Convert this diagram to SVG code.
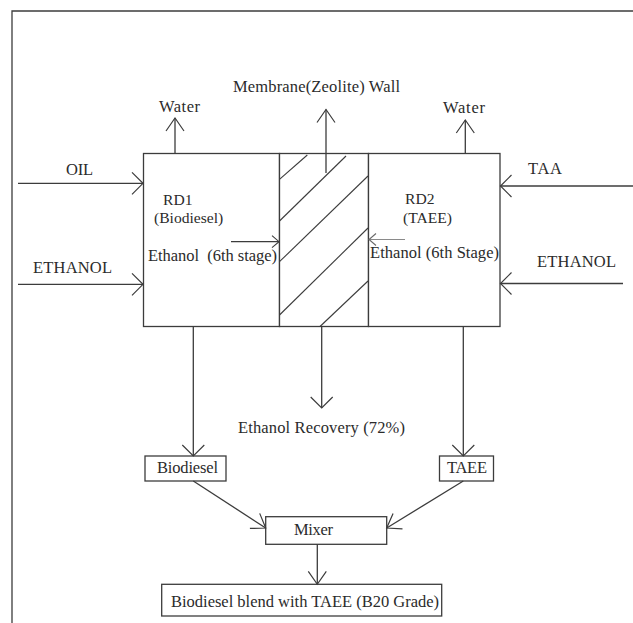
<svg xmlns="http://www.w3.org/2000/svg" width="633" height="623" viewBox="0 0 633 623" font-family="'Liberation Serif', 'Times New Roman', 'DejaVu Serif', serif">
<style>
.ln{stroke:#3c3c3c;stroke-width:1.3;fill:none}
.lt{stroke:#8a8a8a;stroke-width:1.2;fill:none}
.box{fill:#ffffff;stroke:#3c3c3c;stroke-width:1.3}
.hatch{stroke:#3c3c3c;stroke-width:1.1;fill:none}
text{font-family:'Liberation Serif','Times New Roman','DejaVu Serif',serif;font-size:16.5px;fill:#2b2b2b}
.sm{font-size:15.6px}
.pre{white-space:pre}
</style>
<defs>
<marker id="aw" viewBox="-13 -13 16 26" markerWidth="16" markerHeight="26" refX="0" refY="0" orient="auto" markerUnits="userSpaceOnUse">
<path d="M-11,-11 L0,0 L-11,11" fill="none" stroke="#3c3c3c" stroke-width="1.2"/>
</marker>
<marker id="am" viewBox="-16 -11 19 22" markerWidth="19" markerHeight="22" refX="0" refY="0" orient="auto" markerUnits="userSpaceOnUse">
<path d="M-13,-9 L0,0 L-13,9" fill="none" stroke="#3c3c3c" stroke-width="1.2"/>
</marker>
<marker id="as" viewBox="-9 -7 11 14" markerWidth="11" markerHeight="14" refX="0" refY="0" orient="auto" markerUnits="userSpaceOnUse">
<path d="M-7,-6 L0,0 L-7,6" fill="none" stroke="#3c3c3c" stroke-width="1.1"/>
</marker>
<marker id="asl" viewBox="-9 -7 11 14" markerWidth="11" markerHeight="14" refX="0" refY="0" orient="auto" markerUnits="userSpaceOnUse">
<path d="M-7,-6 L0,0 L-7,6" fill="none" stroke="#6a6a6a" stroke-width="1.1"/>
</marker>
</defs>
<rect x="0" y="0" width="633" height="623" fill="#ffffff"/>
<g id="frame">
<path class="ln" d="M12,623 L12,11 L633,11" stroke="#555"/>
</g>

<g id="rd1">
<rect class="box" x="143.5" y="153.5" width="136" height="173"/>
<text class="sm" x="163" y="205">RD1</text>
<text class="sm" x="154" y="223">(Biodiesel)</text>
<text class="pre" x="148" y="261" textLength="129">Ethanol  (6th stage)</text>
</g>

<g id="membrane">
<rect class="box" x="279.5" y="153.5" width="89" height="173"/>
<line class="hatch" x1="279.5" y1="179.3" x2="307.3" y2="155"/>
<line class="hatch" x1="279.5" y1="221" x2="346" y2="156"/>
<line class="hatch" x1="279.5" y1="261.7" x2="368" y2="176"/>
<line class="hatch" x1="279.5" y1="315" x2="368" y2="228"/>
<line class="hatch" x1="320" y1="326.5" x2="368" y2="281"/>
<text x="233" y="92" textLength="167">Membrane(Zeolite) Wall</text>
</g>

<g id="rd2">
<rect class="box" x="368.5" y="153.5" width="131.5" height="173"/>
<text class="sm" x="405" y="204">RD2</text>
<text class="sm" x="403" y="223">(TAEE)</text>
<text x="370" y="258" textLength="129">Ethanol (6th Stage)</text>
</g>

<g id="biodiesel">
<rect class="box" x="145" y="456" width="81" height="25"/>
<text x="157" y="473" textLength="61">Biodiesel</text>
</g>

<g id="taee">
<rect class="box" x="439.5" y="456" width="54" height="25"/>
<text x="447" y="473" textLength="40">TAEE</text>
</g>

<g id="mixer">
<rect class="box" x="265.7" y="516.7" width="121" height="27.6"/>
<text x="294" y="535" textLength="39">Mixer</text>
</g>

<g id="blend">
<rect class="box" x="161.7" y="584.3" width="280" height="31.7"/>
<text x="171" y="607" textLength="268">Biodiesel blend with TAEE (B20 Grade)</text>
</g>

<g id="connectors">
<line class="ln" x1="175" y1="153" x2="175" y2="118" marker-end="url(#am)"/>
<line class="ln" x1="326" y1="173" x2="326" y2="109.5" marker-end="url(#am)"/>
<line class="ln" x1="465.3" y1="153" x2="465.3" y2="120" marker-end="url(#am)"/>
<line class="ln" x1="18" y1="183.3" x2="143" y2="183.3" marker-end="url(#aw)"/>
<line class="ln" x1="18" y1="284.3" x2="143" y2="284.3" marker-end="url(#aw)"/>
<line class="ln" x1="633" y1="186" x2="500.5" y2="186" marker-end="url(#aw)"/>
<line class="ln" x1="623" y1="283.5" x2="500.5" y2="283.5" marker-end="url(#aw)"/>
<line class="ln" x1="231" y1="241.7" x2="279" y2="241.7" marker-end="url(#as)"/>
<line class="lt" x1="405" y1="239.5" x2="369" y2="239.5" marker-end="url(#asl)"/>
<line class="ln" x1="193.3" y1="326.7" x2="193.3" y2="456" marker-end="url(#aw)"/>
<line class="ln" x1="321.7" y1="326.7" x2="321.7" y2="408" marker-end="url(#aw)"/>
<line class="ln" x1="463.3" y1="326.7" x2="463.3" y2="456" marker-end="url(#aw)"/>
<line class="ln" x1="193.3" y1="481" x2="265.7" y2="528" marker-end="url(#am)"/>
<line class="ln" x1="463.3" y1="481" x2="386.7" y2="528" marker-end="url(#am)"/>
<line class="ln" x1="317.3" y1="544.3" x2="317.3" y2="584.3" marker-end="url(#am)"/>
<text x="159" y="112" textLength="41">Water</text>
<text x="443" y="113" textLength="42">Water</text>
<text x="66" y="175" textLength="27">OIL</text>
<text x="33" y="273" textLength="79">ETHANOL</text>
<text x="528" y="174" textLength="34">TAA</text>
<text x="537" y="267" textLength="79">ETHANOL</text>
<text x="238" y="433" textLength="167">Ethanol Recovery (72%)</text>
</g>
</svg>
